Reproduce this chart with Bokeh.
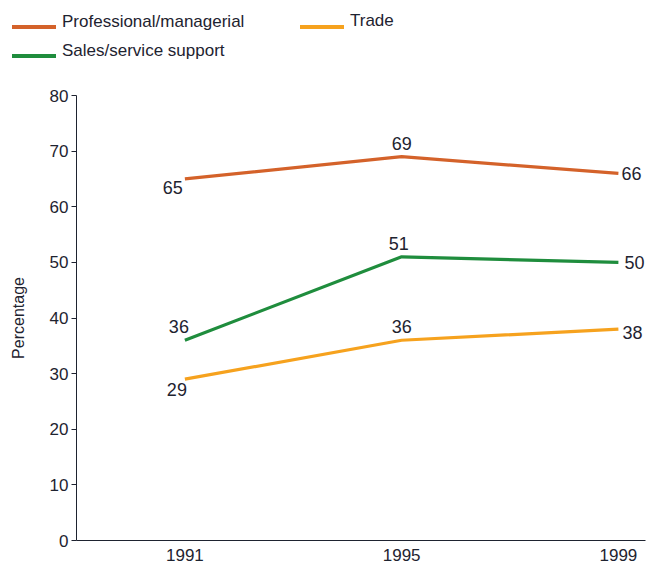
from bokeh.plotting import figure
from bokeh.layouts import column
from bokeh.models import ColumnDataSource, FixedTicker, Div
from bokeh.core.properties import value
from bokeh.embed import file_html
from bokeh.resources import INLINE

# ---- data ----
years = [1991, 1995, 1999]
professional = [65, 69, 66]
sales = [36, 51, 50]
trade = [29, 36, 38]
series_names = ["Professional/managerial", "Trade", "Sales/service support"]
y_ticks = [0, 10, 20, 30, 40, 50, 60, 70, 80]

FONT = "Liberation Sans"
TXT = "#1e2330"
colors = {"Professional/managerial": "#d4622a",
          "Trade": "#f6a21e",
          "Sales/service support": "#1f8d3d"}
vals = {"Professional/managerial": professional, "Trade": trade,
        "Sales/service support": sales}

# ---- main chart ----
p = figure(width=657, height=502, x_range=(1989, 1999.5), y_range=(0, 80),
           output_backend="svg", toolbar_location=None,
           min_border_left=76, min_border_right=12, min_border_top=25,
           min_border_bottom=32)
p.outline_line_color = None
p.xgrid.visible = False
p.ygrid.visible = False

p.yaxis.ticker = FixedTicker(ticks=y_ticks)
p.yaxis.minor_tick_line_color = None
p.yaxis.major_tick_out = 5
p.yaxis.major_tick_in = 0
p.yaxis.major_label_standoff = 3
p.yaxis.axis_label = "Percentage"
p.yaxis.axis_label_text_font = FONT
p.yaxis.axis_label_text_font_style = "normal"
p.yaxis.axis_label_text_font_size = "16px"
p.yaxis.axis_label_text_color = TXT
p.yaxis.axis_label_standoff = 20
p.xaxis.ticker = FixedTicker(ticks=years)
p.xaxis.minor_tick_line_color = None
p.xaxis.major_tick_out = 0
p.xaxis.major_tick_in = 0
p.xaxis.major_label_standoff = 8
for ax in (p.xaxis, p.yaxis):
    ax.axis_line_color = TXT
    ax.major_tick_line_color = TXT
    ax.major_label_text_font = FONT
    ax.major_label_text_font_size = "17px"
    ax.major_label_text_color = TXT

for name in series_names:
    src = ColumnDataSource(dict(x=years, y=vals[name]))
    p.line("x", "y", source=src, line_color=colors[name], line_width=3.2)

# value labels (placement styling per point)
place = {
    "Professional/managerial": [("right", "top", -2, 2), ("center", "bottom", 0, -7), ("left", "middle", 3, 0)],
    "Sales/service support": [("center", "bottom", -6, -7), ("center", "bottom", -3, -7), ("left", "middle", 6, 0)],
    "Trade": [("center", "top", -8, 4), ("center", "bottom", 0, -7), ("left", "middle", 4, 3)],
}
for name in series_names:
    al = [a for a, b, c, d in place[name]]
    bl = [b for a, b, c, d in place[name]]
    xo = [c for a, b, c, d in place[name]]
    yo = [d for a, b, c, d in place[name]]
    src = ColumnDataSource(dict(x=years, y=vals[name],
                                t=[str(v) for v in vals[name]],
                                al=al, bl=bl, xo=xo, yo=yo))
    p.text("x", "y", text="t", source=src, text_align="al", text_baseline="bl",
           x_offset="xo", y_offset="yo", text_font=value(FONT),
           text_font_size="18px", text_color=TXT)

# ---- legend strip (HTML) ----
legend_pos = {  # swatch left, swatch top, label left, label top
    "Professional/managerial": (12, 25, 62, 12),
    "Trade": (300, 25, 350, 11),
    "Sales/service support": (12, 54, 62, 41),
}
parts = []
for name in series_names:
    sl, st, ll, lt = legend_pos[name]
    parts.append(
        f'<span style="position:absolute;left:{sl}px;top:{st}px;width:44px;height:4px;'
        f'background:{colors[name]};"></span>'
        f'<span style="position:absolute;left:{ll}px;top:{lt}px;line-height:20px;'
        f'white-space:nowrap;">{name}</span>')
html = (f'<div style="position:relative;width:657px;height:70px;font-family:\'{FONT}\';'
        f'font-size:17px;color:{TXT};">' + "".join(parts) + '</div>')
lg = Div(text=html, width=657, height=70, margin=0)

layout = column(lg, p, spacing=0)
open("out.html", "w").write(file_html(layout, INLINE))
